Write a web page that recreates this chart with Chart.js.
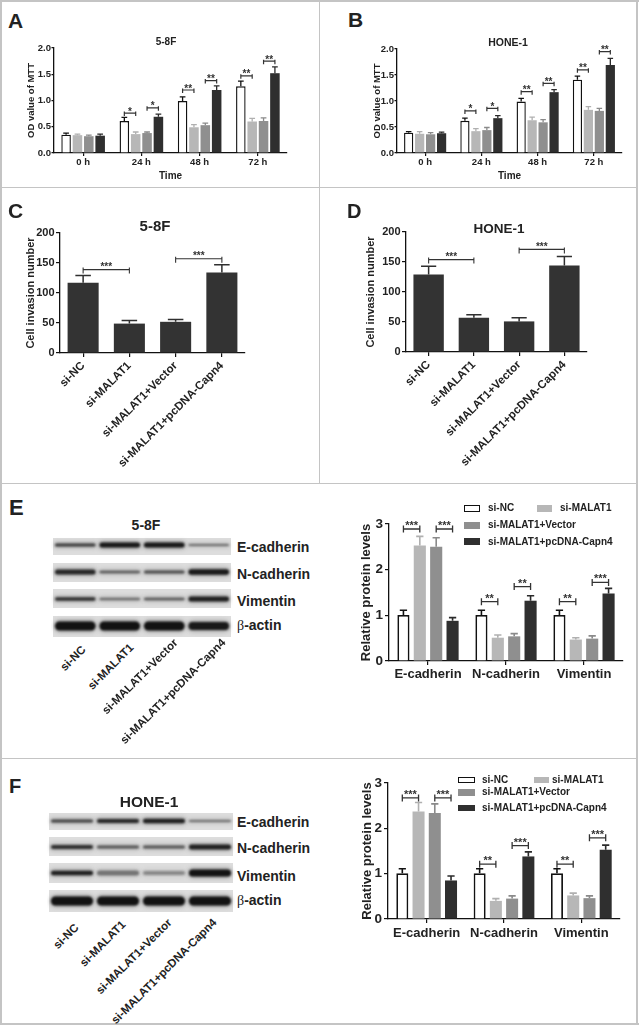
<!DOCTYPE html>
<html><head><meta charset="utf-8">
<script src="https://cdn.jsdelivr.net/npm/chart.js@4.4.1/dist/chart.umd.min.js"></script>
<style>
html,body{margin:0;padding:0;background:#fff;}
#page{position:relative;width:639px;height:1025px;overflow:hidden;background:#fff;font-family:'Liberation Sans',Arial,sans-serif;font-weight:bold;color:#222;}
canvas{position:absolute;}
.t{position:absolute;white-space:nowrap;line-height:1;}
.ln{position:absolute;background:#c4c4c4;}
.bx{position:absolute;box-sizing:border-box;}
</style></head><body><div id="page"></div>
<script>
// ---------------- DATA ----------------
const seriesNames = ['si-NC','si-MALAT1','si-MALAT1+Vector','si-MALAT1+pcDNA-Capn4'];
const cellLines = ['5-8F','HONE-1'];
const timeLabels = ['0 h','24 h','48 h','72 h'];
const proteinLabels = ['E-cadherin','N-cadherin','Vimentin'];
const blotLabels = ['E-cadherin','N-cadherin','Vimentin','-actin'];
const ticksMTT = [0, 0.5, 1.0, 1.5, 2.0];
const ticksInvasion = [0, 50, 100, 150, 200];
const ticksProtein = [0, 1, 2, 3];

// MTT, 5-8F (rows = series, cols = time points)
const mtt58F = [[0.35,0.61,0.99,1.27],[0.34,0.36,0.49,0.60],[0.32,0.38,0.53,0.61],[0.33,0.69,1.20,1.52]];
const mtt58FErr = [[0.03,0.07,0.08,0.10],[0.02,0.04,0.05,0.06],[0.02,0.02,0.04,0.06],[0.03,0.05,0.08,0.12]];
// significance: [seriesA, catA, seriesB, catB, y, label]
const mtt58FSig = [[0,1,1,1,0.76,'*'],[2,1,3,1,0.86,'*'],[0,2,1,2,1.20,'**'],[2,2,3,2,1.38,'**'],[0,3,1,3,1.47,'**'],[2,3,3,3,1.75,'**']];

// MTT, HONE-1
const mttHONE = [[0.39,0.62,0.99,1.41],[0.37,0.42,0.63,0.83],[0.36,0.44,0.59,0.81],[0.38,0.67,1.17,1.69]];
const mttHONEErr = [[0.02,0.05,0.06,0.07],[0.04,0.05,0.06,0.06],[0.03,0.05,0.05,0.05],[0.02,0.05,0.05,0.13]];
const mttHONESig = [[0,1,1,1,0.81,'*'],[2,1,3,1,0.86,'*'],[0,2,1,2,1.18,'**'],[2,2,3,2,1.34,'**'],[0,3,1,3,1.60,'**'],[2,3,3,3,1.95,'**']];

// Invasion
const inv58F = [117,49,52,134];
const inv58FErr = [12,5,4,13];
const inv58FSig = [[0,0,0,1,139,'***'],[0,2,0,3,157,'***']];
const invHONE = [129,57,51,144];
const invHONEErr = [14,5,6,15];
const invHONESig = [[0,0,0,1,154,'***'],[0,2,0,3,171,'***']];

// Relative protein levels (rows = series, cols = proteins)
const prot58F = [[1.01,1.01,1.01],[2.53,0.51,0.47],[2.50,0.54,0.49],[0.88,1.32,1.48]];
const prot58FErr = [[0.10,0.10,0.10],[0.20,0.06,0.04],[0.20,0.06,0.06],[0.07,0.11,0.11]];
const prot58FSig = [[0,0,1,0,2.89,'***'],[2,0,3,0,2.89,'***'],[0,1,1,1,1.30,'**'],[2,1,3,1,1.63,'**'],[0,2,1,2,1.30,'**'],[2,2,3,2,1.72,'***']];
const protHONE = [[1.01,1.01,1.01],[2.37,0.40,0.52],[2.34,0.45,0.46],[0.85,1.38,1.53]];
const protHONEErr = [[0.10,0.10,0.10],[0.20,0.05,0.05],[0.20,0.06,0.05],[0.10,0.10,0.10]];
const protHONESig = [[0,0,1,0,2.67,'***'],[2,0,3,0,2.67,'***'],[0,1,1,1,1.21,'**'],[2,1,3,1,1.62,'***'],[0,2,1,2,1.21,'**'],[2,2,3,2,1.79,'***']];

// ---------------- STYLE ----------------
const FONT = "'Liberation Sans', Arial, sans-serif";
const fills = ['#ffffff','#b7b7b7','#8f8f8f','#2f2f2f'];
const errCols = ['#111111','#b0b0b0','#8a8a8a','#2a2a2a'];
const page = document.getElementById('page');
Chart.defaults.font.family = FONT;
Chart.defaults.font.weight = 'bold';
Chart.defaults.color = '#222';

function line(x,y,w,h){const d=document.createElement('div');d.className='ln';Object.assign(d.style,{left:x+'px',top:y+'px',width:w+'px',height:h+'px'});page.appendChild(d);}
function txt(s,x,base,size,align,html,weight){
  const d=document.createElement('div');d.className='t';
  if(html) d.innerHTML=html; else d.textContent=s;
  d.style.fontSize=size+'px';d.style.left=x+'px';d.style.top=(base-0.8465*size)+'px';
  if(align==='center') d.style.transform='translateX(-50%)';
  if(weight) d.style.fontWeight=weight;
  page.appendChild(d);return d;
}
function rot(s,x,y,size){
  const d=document.createElement('div');d.className='t';d.textContent=s;
  d.style.fontSize=size+'px';d.style.left=x+'px';d.style.top=y+'px';
  d.style.transformOrigin='right center';d.style.transform='translate(-100%,-50%) rotate(-45deg)';
  page.appendChild(d);
}
function box(x,y,w,h,fill,border){
  const d=document.createElement('div');d.className='bx';
  Object.assign(d.style,{left:x+'px',top:y+'px',width:w+'px',height:h+'px',background:fill,border:border||'none'});
  page.appendChild(d);
}

// panel frame
line(0,0,639,1.5); line(0,0,2,1025); line(636,0,2,1025); line(0,1023,639,2);
line(0,186.5,638,1.5); line(0,482.5,638,1.5); line(0,757.5,638,1.5); line(318.5,0,1.5,484);

const annot = {
  id:'annot',
  afterDatasetsDraw(chart, args, o){
    const ctx=chart.ctx, ys=chart.scales.y;
    ctx.save();
    chart.data.datasets.forEach((ds,i)=>{
      const meta=chart.getDatasetMeta(i);
      meta.data.forEach((el,j)=>{
        const e=ds.err[j]; if(!e) return;
        const yt=ys.getPixelForValue(ds.data[j]+e);
        const w=el.width*o.cap;
        ctx.strokeStyle=ds.errColor; ctx.lineWidth=o.lw;
        ctx.beginPath(); ctx.moveTo(el.x,el.y); ctx.lineTo(el.x,yt);
        ctx.moveTo(el.x-w/2,yt); ctx.lineTo(el.x+w/2,yt); ctx.stroke();
      });
    });
    (o.sig||[]).forEach(s=>{
      const a=chart.getDatasetMeta(s[0]).data[s[1]], b=chart.getDatasetMeta(s[2]).data[s[3]];
      const y=ys.getPixelForValue(s[4]);
      ctx.strokeStyle='#333'; ctx.lineWidth=o.blw;
      ctx.beginPath();
      ctx.moveTo(a.x,y); ctx.lineTo(b.x,y);
      ctx.moveTo(a.x,y-o.up); ctx.lineTo(a.x,y+o.down);
      ctx.moveTo(b.x,y-o.up); ctx.lineTo(b.x,y+o.down);
      ctx.stroke();
      ctx.fillStyle='#333'; ctx.font='bold '+o.fs+'px '+FONT;
      ctx.textAlign='center'; ctx.textBaseline='alphabetic';
      ctx.fillText(s[5],(a.x+b.x)/2,y+o.tOff);
    });
    ctx.restore();
  }
};

function makeChart(c){
  const lhY=c.yTitleSize*1.2;
  const titleLeft=c.yTitleX-lhY/2;
  const cl=Math.floor(titleLeft)-2, ct=c.area.t-12, cr=c.area.r+8, cb=c.canvasBottom;
  const cv=document.createElement('canvas');
  cv.width=cr-cl; cv.height=cb-ct;
  Object.assign(cv.style,{left:cl+'px',top:ct+'px',width:(cr-cl)+'px',height:(cb-ct)+'px'});
  page.appendChild(cv);
  const padL=titleLeft-cl, yW=c.area.l-titleLeft, xH=cb-c.area.b;
  new Chart(cv,{
    type:'bar',
    data:{labels:c.labels,datasets:c.datasets},
    options:{
      responsive:false, animation:false, devicePixelRatio:1,
      layout:{padding:{left:padL,top:12,right:8,bottom:0}},
      plugins:{legend:{display:false},tooltip:{enabled:false},title:{display:false},annot:c.annot},
      scales:{
        x:{type:'category',offset:true,
          grid:{display:true,drawOnChartArea:false,drawTicks:true,tickLength:c.xTick,offset:false,color:'#111',lineWidth:1.2},
          border:{display:true,color:'#111',width:1.3},
          ticks:{font:{size:c.xFont,weight:'bold'},color:'#222',padding:c.xPad,autoSkip:false,minRotation:c.rot,maxRotation:c.rot},
          title:c.xTitle?{display:true,text:c.xTitle,font:{size:c.xTitleSize,weight:'bold'},color:'#222',padding:0}:{display:false},
          afterFit:s=>{s.height=xH;s.paddingLeft=0;s.paddingRight=0;s.paddingTop=0;s.paddingBottom=0;}
        },
        y:{type:'linear',min:0,max:c.yTicks[c.yTicks.length-1],
          afterBuildTicks:s=>{s.ticks=c.yTicks.map(v=>({value:v}));},
          ticks:{font:{size:c.yFont,weight:'bold'},color:'#222',padding:c.yPad,callback:v=>c.yFmt(v)},
          grid:{display:true,drawOnChartArea:false,drawTicks:true,tickLength:c.yTick,color:'#111',lineWidth:1.2},
          border:{display:true,color:'#111',width:1.3},
          title:{display:true,text:c.yTitle,font:{size:c.yTitleSize,weight:'bold'},color:'#222',padding:0},
          afterFit:s=>{s.width=yW;s.paddingLeft=0;s.paddingRight=0;s.paddingTop=0;s.paddingBottom=0;}
        }
      }
    },
    plugins:[annot]
  });
}

function groupSets(means,errs,cp,bp,bw){
  return means.map((m,i)=>({label:seriesNames[i],data:m,err:errs[i],errColor:errCols[i],
    backgroundColor:fills[i],borderColor:i===0?'#111':fills[i],borderWidth:i===0?bw:0,borderSkipped:'bottom',
    categoryPercentage:cp,barPercentage:bp}));
}

// ---- A & B : MTT ----
const mttCommon={yTitle:'OD value of MTT',yTitleSize:9.5,yFont:9.5,yTick:2.5,yPad:0.5,xFont:9.5,xTick:3,xPad:1,
  xTitle:'Time',xTitleSize:10,canvasBottom:182,rot:0,yTicks:ticksMTT,yFmt:v=>v.toFixed(1),labels:timeLabels};
const mttAnnot=(sig)=>({cap:0.6,lw:1.3,blw:1.2,up:1.5,down:3,fs:10,tOff:1.5,sig});
makeChart(Object.assign({},mttCommon,{area:{l:54,t:48,r:287,b:153},yTitleX:31,
  datasets:groupSets(mtt58F,mtt58FErr,0.78,0.84,1.4),annot:mttAnnot(mtt58FSig)}));
makeChart(Object.assign({},mttCommon,{area:{l:397,t:49,r:622,b:153},yTitleX:377,
  datasets:groupSets(mttHONE,mttHONEErr,0.78,0.84,1.4),annot:mttAnnot(mttHONESig)}));

// ---- C & D : invasion ----
const invCommon={yTitle:'Cell invasion number',yTitleSize:11,yFont:11,yTick:4,yPad:1.5,xFont:11.5,xTick:4,xPad:2,
  canvasBottom:478,rot:45,yTicks:ticksInvasion,yFmt:v=>String(v),labels:seriesNames};
const invSet=(d,e)=>[{label:'Cell invasion',data:d,err:e,errColor:'#2f2f2f',backgroundColor:'#333333',borderWidth:0,
  categoryPercentage:0.85,barPercentage:0.79}];
const invAnnot=(sig)=>({cap:0.5,lw:1.5,blw:1.1,up:2,down:4,fs:10,tOff:0.5,sig});
makeChart(Object.assign({},invCommon,{area:{l:60,t:233,r:245,b:353},yTitleX:30.5,datasets:invSet(inv58F,inv58FErr),annot:invAnnot(inv58FSig)}));
makeChart(Object.assign({},invCommon,{area:{l:406,t:232,r:587,b:352},yTitleX:371,datasets:invSet(invHONE,invHONEErr),annot:invAnnot(invHONESig)}));

// ---- E & F : protein levels ----
const protCommon={yTitle:'Relative protein levels',yTitleSize:13,yFont:13.5,yTick:4,yPad:2,xFont:13,xTick:4,
  rot:0,yTicks:ticksProtein,yFmt:v=>String(v),labels:proteinLabels};
const protAnnot=(sig)=>({cap:0.6,lw:1.6,blw:1.3,up:3.5,down:3.5,fs:11,tOff:0,sig});
makeChart(Object.assign({},protCommon,{area:{l:389,t:524,r:623,b:661},yTitleX:366,xPad:2,canvasBottom:690,
  datasets:groupSets(prot58F,prot58FErr,0.84,0.74,1.8),annot:protAnnot(prot58FSig)}));
makeChart(Object.assign({},protCommon,{area:{l:388,t:783,r:620,b:919},yTitleX:367,xPad:2.5,canvasBottom:950,
  datasets:groupSets(protHONE,protHONEErr,0.84,0.74,1.8),annot:protAnnot(protHONESig)}));

// ---- Western blots (illustration) ----
function drawBlot(x0,x1,rows,bandY,bands){
  const top=rows[0][0]-2, bot=rows[rows.length-1][1]+2;
  const cv=document.createElement('canvas');
  cv.width=x1-x0+4; cv.height=bot-top;
  Object.assign(cv.style,{left:(x0-2)+'px',top:top+'px',width:cv.width+'px',height:cv.height+'px'});
  page.appendChild(cv);
  const ctx=cv.getContext('2d');
  const ox=x0-2, oy=top, lw=(x1-x0)/4;
  rows.forEach((r,i)=>{
    ctx.fillStyle='#dddddd'; ctx.fillRect(x0-ox,r[0]-oy,x1-x0,r[1]-r[0]);
    bands[i].forEach((b,j)=>{
      const lx=x0+j*lw-ox, cy=bandY[i]-oy, th=b[0], dk=b[1];
      ctx.save(); ctx.filter='blur(2px)';
      ctx.fillStyle='rgba(40,40,40,'+(0.35*dk)+')';
      ctx.beginPath(); ctx.roundRect(lx+1,cy-th/2-1.5,lw-2,th+3,(th+3)/2); ctx.fill();
      ctx.restore();
      ctx.save(); ctx.filter='blur(0.9px)';
      ctx.fillStyle='rgba(18,18,18,'+dk+')';
      ctx.beginPath(); ctx.roundRect(lx+2,cy-th/2,lw-4,th,th/2); ctx.fill();
      ctx.restore();
    });
  });
}
drawBlot(53,231,[[538,555],[563,582],[589,608],[616,637]],[545,572,599,626],
  [[[3,0.75],[5,0.95],[5,0.95],[2.2,0.5]],
   [[5,0.85],[2.5,0.6],[3,0.65],[5.5,0.95]],
   [[3.5,0.8],[2.5,0.5],[2.5,0.6],[5,0.9]],
   [[9,1],[9,1],[9,1],[8,0.95]]]);
drawBlot(49,233,[[813,830],[837,856],[863,883],[890,912]],[821,847,873,901],
  [[[3,0.7],[4,0.85],[4.5,0.9],[2,0.5]],
   [[4,0.8],[3,0.6],[3,0.6],[5,0.9]],
   [[4.5,0.9],[5,0.45],[4,0.35],[7,1]],
   [[9,1],[9,1],[9,1],[9,1]]]);

// blot labels
const betaHTML='<span style="font-family:\'Liberation Serif\',serif;font-weight:normal">β</span>'+blotLabels[3];
[552,579,606].forEach((b,i)=>txt(blotLabels[i],237,b,14));
txt(null,237,630,14,null,betaHTML);
[827,853,881].forEach((b,i)=>txt(blotLabels[i],237,b,14));
txt(null,237,905,14,null,betaHTML);
// lane labels
[[84,648],[132,646],[176,641],[224,641]].forEach((p,i)=>rot(seriesNames[i],p[0],p[1],11.5));
[[77,926],[124,923],[170,921],[215,921]].forEach((p,i)=>rot(seriesNames[i],p[0],p[1],11.5));

// panel letters
txt('A',8,28,21); txt('B',348,27,21); txt('C',8,218,21); txt('D',347,218,20); txt('E',9,516,22); txt('F',9,793,20);
// panel titles
txt(cellLines[0],166,45,10,'center'); txt(cellLines[1],508,46,10.5,'center',null,'600');
txt(cellLines[0],155,231,15,'center'); txt(cellLines[1],499,233,13.5,'center');
txt(cellLines[0],146,530,14,'center'); txt(cellLines[1],149,807,15.5,'center');

// legends E and F
box(464,505,16,6.5,'#fff','1.5px solid #111'); txt(seriesNames[0],488,511.6,10);
box(537,505,15,7,fills[1]); txt(seriesNames[1],560,511.6,10);
box(464,522,16,7,fills[2]); txt(seriesNames[2],488,528.6,10);
box(464,538,16,7,fills[3]); txt(seriesNames[3],488,545.6,10);

box(458,777,17,6,'#fff','1.5px solid #111'); txt(seriesNames[0],482,783.6,10);
box(534,777,15,6,fills[1]); txt(seriesNames[1],552,783.6,10);
box(458,789,17,7,fills[2]); txt(seriesNames[2],482,795.6,10);
box(458,805,17,6,fills[3]); txt(seriesNames[3],482,811.6,10);
</script></body></html>
